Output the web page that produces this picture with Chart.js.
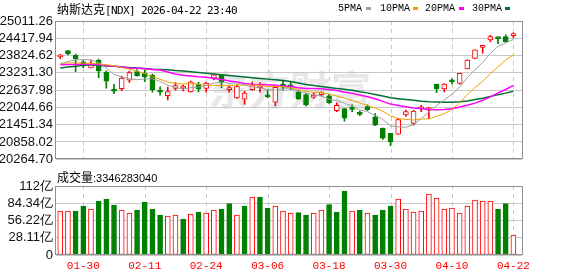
<!DOCTYPE html>
<html><head><meta charset="utf-8">
<script src="https://cdn.jsdelivr.net/npm/chart.js@4.4.1/dist/chart.umd.min.js"></script>
<style>
html,body{margin:0;padding:0;background:#fff;}
#wrap{position:relative;width:578px;height:276px;overflow:hidden;background:#fff;}
.t{position:absolute;white-space:nowrap;line-height:16px;color:#000;}
.cn{font:12px 'Noto Sans CJK SC';}
.mono{font:11px 'DejaVu Sans Mono';letter-spacing:-0.62px;}
.lg{position:absolute;font:10px 'Liberation Mono';color:#000;line-height:12px;top:3px;}
.sq{position:absolute;top:7px;width:5px;height:3px;}
#wm{position:absolute;left:208px;top:64px;font:bold 40px 'Noto Sans CJK SC';color:#e8e8e8;letter-spacing:1px;line-height:48px;}
canvas{position:absolute;left:0;}
</style></head><body>
<div id="wrap">
<div id="wm">东方财富</div>
<canvas id="pc" width="578" height="170" style="top:0"></canvas>
<canvas id="vc" width="578" height="106" style="top:170px"></canvas>
<div class="t" style="left:57px;top:0px;"><span class="cn">纳斯达克</span><span class="mono">[NDX] 2026-04-22 23:40</span></div>
<div class="lg" style="left:338px">5PMA</div><div class="sq" style="left:366px;background:#a0a0a0"></div>
<div class="lg" style="left:380px">10PMA</div><div class="sq" style="left:413px;background:#f0a000"></div>
<div class="lg" style="left:425px">20PMA</div><div class="sq" style="left:459px;background:#ff00ff"></div>
<div class="lg" style="left:472px">30PMA</div><div class="sq" style="left:505px;background:#007033"></div>
<div class="t" style="left:57px;top:168px;"><span class="cn">成交量</span><span style="font:11px 'Liberation Sans'">:3346283040</span></div>
</div>
<script>
const dates = ['01-27','01-28','01-29','01-30','02-02','02-03','02-04','02-05','02-06','02-09','02-10','02-11','02-12','02-13','02-17','02-18','02-19','02-20','02-23','02-24','02-25','02-26','02-27','03-02','03-03','03-04','03-05','03-06','03-09','03-10','03-11','03-12','03-13','03-16','03-17','03-18','03-19','03-20','03-23','03-24','03-25','03-26','03-27','03-30','03-31','04-01','04-02','04-06','04-07','04-08','04-09','04-10','04-13','04-14','04-15','04-16','04-17','04-20','04-21','04-22'];
const labelIdx = [3,11,19,27,35,43,51,59];

const open  = [23780,23996,23834,23606,23401,23671,23249,22620,22687,22979,23271,23217,23152,22611,22449,22697,22708,22579,22827,22697,23044,23141,22654,22373,22330,22654,22719,22438,22221,22838,22790,22578,22481,22395,22481,22438,21929,22005,22048,21875,22070,21724,21334,21150,21128,21788,21496,21994,21951,22849,22676,22957,22870,23368,23725,24104,24364,24418,24472,24504];
const high  = [23866,23996,23877,23671,23650,23704,23303,22838,23120,23293,23347,23336,23185,22752,22741,22892,22817,22947,22903,22914,23195,23163,22773,22827,22600,22914,22892,22633,22752,22946,22903,22622,22513,22557,22578,22492,22200,22005,22135,21918,22135,21832,21334,21150,21659,21951,21940,22113,22048,22849,22860,23022,23217,23680,24018,24147,24515,24428,24537,24602];
const low   = [23715,23845,23271,23412,23401,23065,22708,22514,22622,22903,23120,22925,22568,22460,22297,22633,22611,22568,22579,22568,23000,22719,22568,22351,22156,22633,22568,22373,22092,22633,22654,22330,22092,22351,22438,22178,21897,21572,21897,21756,21940,21420,20945,20728,21118,21734,21431,21897,21659,22546,22578,22838,22838,23368,23715,23909,24299,24234,24277,24439];
const close = [23795,23877,23715,23477,23552,23293,22946,22600,23055,23238,23130,23087,22643,22568,22589,22795,22730,22925,22676,22881,23163,22914,22708,22762,22535,22795,22773,22405,22730,22740,22750,22330,22135,22438,22513,22200,22113,21670,21972,21800,21962,21431,20988,20858,21626,21897,21918,22005,22026,22676,22849,22924,23217,23671,24018,24126,24472,24407,24299,24580];

const ma5  = [23520,23628,23671,23682,23683,23583,23397,23174,23089,23026,22994,23022,23031,22933,22803,22736,22665,22721,22743,22801,22875,22912,22868,22886,22816,22743,22715,22654,22648,22689,22680,22591,22537,22479,22433,22323,22280,22187,22094,21951,21903,21767,21631,21408,21373,21360,21457,21661,21894,22104,22295,22496,22738,23067,23336,23591,23901,24139,24264,24377];
const ma10 = [23560,23570,23575,23565,23552,23541,23509,23477,23412,23355,23288,23209,23102,23011,22915,22865,22844,22876,22838,22802,22806,22788,22795,22814,22809,22809,22813,22761,22767,22753,22711,22653,22596,22563,22561,22501,22435,22362,22286,22192,22113,22023,21909,21751,21662,21632,21612,21646,21651,21739,21827,21977,22200,22481,22720,22943,23198,23439,23666,23856];
const ma20 = [23509,23520,23520,23530,23530,23509,23487,23466,23433,23401,23390,23368,23347,23325,23260,23190,23150,23120,23095,23078,23047,22999,22949,22913,22862,22837,22828,22819,22802,22777,22759,22721,22695,22689,22685,22655,22624,22562,22526,22472,22412,22338,22252,22157,22112,22067,22024,22004,21969,21964,21970,22000,22054,22116,22191,22287,22405,22542,22659,22798];
const ma30 = [23401,23433,23455,23487,23509,23487,23466,23455,23433,23412,23401,23379,23358,23347,23336,23310,23290,23265,23240,23215,23190,23165,23140,23115,23090,23065,23040,23015,22995,22970,22935,22884,22831,22796,22762,22725,22697,22666,22630,22582,22543,22488,22433,22376,22344,22314,22287,22256,22235,22228,22217,22218,22235,22265,22314,22359,22415,22482,22534,22595];

const volume = [71.7,71.7,71.7,79.8,75.0,88.0,91.3,81.5,73.3,68.4,73.3,86.4,75.0,65.2,63.6,65.2,58.7,66.8,70.1,68.4,73.3,75.0,83.6,65.2,79.8,94.5,94.5,76.6,79.8,71.7,68.4,69.0,65.2,68.4,73.3,82.0,70.1,104.3,71.7,73.3,68.4,65.2,73.3,79.8,91.3,75.0,70.1,71.7,99.4,92.9,75.0,76.6,68.4,79.8,89.6,88.0,88.0,75.0,83.6,32.6];
const volUp = [1,1,0,0,1,0,0,0,1,1,0,0,0,0,1,1,0,1,0,1,1,0,0,1,0,1,0,0,1,1,1,0,0,1,1,0,0,0,1,0,1,0,0,0,1,1,1,1,1,1,1,1,1,1,1,1,1,0,0,1];

const priceTicks = [20264.70,20858.02,21451.34,22044.66,22637.98,23231.30,23824.62,24417.94,25011.26];
const volTicks = [0,28.11,56.22,84.34,112.44];
const volTickLabels = ['0','28.11亿','56.22亿','84.34亿','112亿'];

const RED = '#ff0000', GREEN = '#008000';
const GRID = '#c8c8c8', FRAME = '#8f8f8f';
const xMin = -0.555, xMax = 60.12;
const up = close.map((c,i)=> c >= open[i]);

const frame = {
  id:'frame',
  beforeDatasetsDraw(chart){
    const {ctx, chartArea:a, scales} = chart;
    ctx.save();
    ctx.strokeStyle = GRID; ctx.lineWidth = 1; ctx.setLineDash([4,4]);
    labelIdx.forEach(i => {
      const x = Math.round(scales.x.getPixelForValue(i)) + 0.5;
      ctx.beginPath(); ctx.moveTo(x, a.top); ctx.lineTo(x, a.bottom); ctx.stroke();
    });
    ctx.restore();
  },
  afterDraw(chart){
    const {ctx, chartArea:a} = chart;
    ctx.save();
    ctx.strokeStyle = FRAME; ctx.lineWidth = 1;
    ctx.strokeRect(Math.round(a.left)-0.5, Math.round(a.top)+0.5, Math.round(a.right-a.left)+1, Math.round(a.bottom-a.top)-1);
    ctx.restore();
  }
};

const xScale = (showLabels, h) => ({
  type:'linear', min:xMin, max:xMax, offset:false,
  afterBuildTicks: s => { s.ticks = labelIdx.map(v=>({value:v})); },
  afterFit: s => { s.height = h; },
  ticks:{display:showLabels, autoSkip:false, maxRotation:0, padding:4,
    color:RED, font:{family:'Liberation Mono', size:11},
    callback: v => dates[v] || ''},
  grid:{display:false, drawTicks:false},
  border:{display:false}
});

new Chart(document.getElementById('pc'), {
  type:'bar',
  data:{datasets:[
    {type:'line', data: ma5.map((v,i)=>({x:i,y:v})), borderColor:'#a0a0a0', borderWidth:1, pointRadius:0, order:-4},
    {type:'line', data: ma10.map((v,i)=>({x:i,y:v})), borderColor:'#f0a000', borderWidth:1, pointRadius:0, order:-3},
    {type:'line', data: ma20.map((v,i)=>({x:i,y:v})), borderColor:'#ff00ff', borderWidth:1.5, pointRadius:0, order:-2},
    {type:'line', data: ma30.map((v,i)=>({x:i,y:v})), borderColor:'#007033', borderWidth:1.5, pointRadius:0, order:-1},
    {type:'bar', grouped:false, order:2, barThickness:1,
     data: low.map((l,i)=>({x:i, y:[l, high[i]]})),
     backgroundColor: up.map(u=>u?RED:GREEN), borderWidth:0},
    {type:'bar', grouped:false, order:1, barThickness:5, minBarLength:2,
     data: open.map((o,i)=>({x:i, y:[o, close[i]]})),
     backgroundColor: up.map(u=>u?'#ffffff':GREEN),
     borderColor: up.map(u=>u?RED:GREEN), borderWidth:1, borderSkipped:false}
  ]},
  options:{
    responsive:false, animation:false, events:[],
    layout:{padding:{top:21,right:56,bottom:0,left:0}},
    plugins:{legend:{display:false}, tooltip:{enabled:false}},
    scales:{
      x: xScale(false, 4),
      y:{min:priceTicks[0], max:priceTicks[priceTicks.length-1],
         afterBuildTicks: s => { s.ticks = priceTicks.map(v=>({value:v})); },
         afterFit: s => { s.width = 56; },
         ticks:{callback: v => v.toFixed(2), color:'#111', padding:3, autoSkip:false,
                font:{family:'Liberation Sans', size:13}},
         grid:{color:GRID, drawTicks:false}, border:{display:false}}
    }
  },
  plugins:[frame]
});

new Chart(document.getElementById('vc'), {
  type:'bar',
  data:{datasets:[
    {type:'bar', grouped:false, barThickness:5,
     data: volume.map((v,i)=>({x:i, y:v})),
     backgroundColor: volUp.map(u=>u?'#ffffff':GREEN),
     borderColor: volUp.map(u=>u?RED:GREEN), borderWidth:1, borderSkipped:false}
  ]},
  options:{
    responsive:false, animation:false, events:[],
    layout:{padding:{top:16,right:56,bottom:0,left:0}},
    plugins:{legend:{display:false}, tooltip:{enabled:false}},
    scales:{
      x: xScale(true, 21),
      y:{min:0, max:volTicks[volTicks.length-1],
         afterBuildTicks: s => { s.ticks = volTicks.map(v=>({value:v})); },
         afterFit: s => { s.width = 56; },
         ticks:{callback: v => { const k = volTicks.findIndex(t => Math.abs(t - v) < 1e-6); return k >= 0 ? volTickLabels[k] : ''; },
                color:'#111', padding:3, autoSkip:false,
                font:{family:'Liberation Sans', size:13}},
         grid:{color:GRID, drawTicks:false}, border:{display:false}}
    }
  },
  plugins:[frame]
});
</script>
</body></html>
